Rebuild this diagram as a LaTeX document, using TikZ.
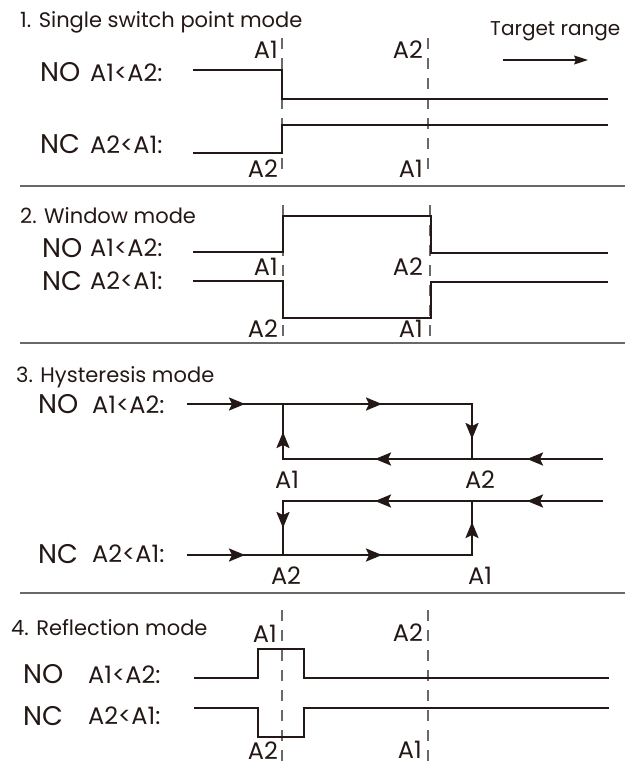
\documentclass[tikz,border=0pt]{standalone}
\usepackage{fontspec}
\setmainfont{Poppins}
\usetikzlibrary{arrows.meta}
\definecolor{tinta}{RGB}{35,24,21}
\definecolor{garis}{RGB}{105,105,105}

\begin{document}
\begin{tikzpicture}[x=1pt, y=-1pt, text=tinta,
    sig/.style={line width=2.2pt, tinta, line join=miter},
    batas/.style={line width=1.5pt, garis},
    putus/.style={line width=1.1pt, garis, dash pattern=on 11pt off 9pt},
    judul/.style={anchor=base west, inner sep=0, font=\fontsize{21}{23}\selectfont},
    mode/.style={anchor=base west, inner sep=0, font=\fontsize{27}{29}\selectfont},
    syarat/.style={anchor=base west, inner sep=0, font=\fontsize{24}{26}\selectfont},
    titik/.style={anchor=base east, inner sep=0, font=\fontsize{24}{26}\selectfont},
    titikc/.style={anchor=base, inner sep=0, font=\fontsize{24}{26}\selectfont},
    panah/.style={line width=2.2pt, tinta, -{Stealth[length=16pt,width=13pt,inset=3pt]}}]
    \useasboundingbox (0,0) rectangle (626,766);

    % titles and separators
    \foreach \i/\x/\y/\txt in {1/20/27/Single switch point mode, 2/20/223/Window mode,
                               3/16/382/Hysteresis mode, 4/11/635/Reflection mode}
        \node[judul] (judul\i) at (\x,\y) {\i. \txt};
    \foreach \y in {186,343,593}
        \draw[batas] (20,\y) -- (625,\y);

    % 1. single switch point
    \node[judul, font=\fontsize{20}{22}\selectfont] (target) at (490,35) {Target range};
    \draw[-{Stealth[length=14pt,width=9pt,inset=2pt]}, line width=1.2pt, tinta] (503,60) -- (588,60);
    \draw[putus] (282,38) -- (282,176);
    \draw[putus] (428,38) -- (428,176);
    \node[mode] (no1) at (40,81) {NO};
    \node[syarat] (sno1) at (90,81) {A1<A2:};
    \node[mode] (nc1) at (40,153) {NC};
    \node[syarat] (snc1) at (90,153) {A2<A1:};
    \draw[sig] (193,70) -- (282,70) -- (282,99) -- (608,99);
    \draw[sig] (193,153) -- (282,153) -- (282,125) -- (608,125);
    \node[titik] (a1p1) at (278,58) {A1};
    \node[titik] (a2p1) at (423,58) {A2};
    \node[titik] (a2q1) at (278,177) {A2};
    \node[titik] (a1q1) at (423,177) {A1};

    % 2. window
    \draw[putus] (283,205) -- (283,340);
    \draw[putus] (430,205) -- (430,340);
    \node[mode] (no2) at (42,257) {NO};
    \node[syarat] (sno2) at (90,256) {A1<A2:};
    \node[mode] (nc2) at (42,290) {NC};
    \node[syarat] (snc2) at (90,289) {A2<A1:};
    \draw[sig] (193,252) -- (283,252) -- (283,216) -- (431,216) -- (431,253) -- (608,253);
    \draw[sig] (193,281) -- (283,281) -- (283,318) -- (431,318) -- (431,282) -- (608,282);
    \node[titik] (a1p2) at (278,275) {A1};
    \node[titik] (a2p2) at (423,275) {A2};
    \node[titik] (a2q2) at (278,337) {A2};
    \node[titik] (a1q2) at (423,337) {A1};

    % 3. hysteresis
    \node[mode] (no3) at (38,413) {NO};
    \node[syarat] (sno3) at (92,413) {A1<A2:};
    \node[mode] (nc3) at (38,563) {NC};
    \node[syarat] (snc3) at (92,562) {A2<A1:};
    \draw[sig] (187,404) -- (472,404) -- (472,459);
    \draw[sig] (283,404) -- (283,459) -- (603,459);
    \draw[sig] (603,501) -- (283,501) -- (283,555);
    \draw[sig] (187,555) -- (472,555) -- (472,501);
    \foreach \x in {245,382} {
        \draw[panah] (\x-20,404) -- (\x,404);
        \draw[panah] (\x-20,555) -- (\x,555);
    }
    \foreach \x in {375,527} {
        \draw[panah] (\x+20,459) -- (\x,459);
        \draw[panah] (\x+20,501) -- (\x,501);
    }
    \draw[panah] (472,420) -- (472,439);
    \draw[panah] (283,451) -- (283,432);
    \draw[panah] (283,509) -- (283,528);
    \draw[panah] (472,541) -- (472,522);
    \node[titikc] (a1p3) at (287,488) {A1};
    \node[titikc] (a2p3) at (480,488) {A2};
    \node[titikc] (a2q3) at (286,584) {A2};
    \node[titikc] (a1q3) at (480,584) {A1};

    % 4. reflection
    \draw[putus] (282,610) -- (282,762);
    \draw[putus] (428,610) -- (428,762);
    \node[mode] (no4) at (23,683) {NO};
    \node[syarat] (sno4) at (88,683) {A1<A2:};
    \node[mode] (nc4) at (23,725) {NC};
    \node[syarat] (snc4) at (88,724) {A2<A1:};
    \draw[sig] (194,678) -- (258,678) -- (258,649) -- (304,649) -- (304,678) -- (609,678);
    \draw[sig] (194,708) -- (258,708) -- (258,737) -- (304,737) -- (304,708) -- (609,708);
    \node[titik] (a1p4) at (277,642) {A1};
    \node[titik] (a2p4) at (423,641) {A2};
    \node[titik] (a2q4) at (278,759) {A2};
    \node[titik] (a1q4) at (422,758) {A1};
\end{tikzpicture}
\end{document}
